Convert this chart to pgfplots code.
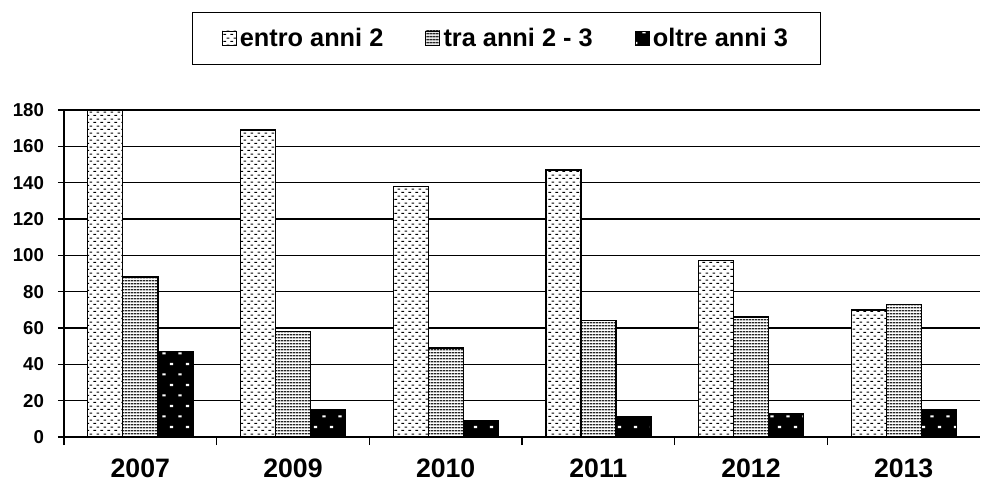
\documentclass[border=0pt]{standalone}
\usepackage{fontspec}
\setmainfont{Liberation Sans}
\usepackage{pgfplots}
\pgfplotsset{compat=1.18}
\usetikzlibrary{patterns,patterns.meta}

\tikzdeclarepattern{
  name=dashdots, type=uncolored,
  bounding box={(0,0) and (5.4pt,5.4pt)},
  tile size={(5.4pt,5.4pt)},
  code={
    \draw[line width=0.9pt] (0.3pt,1.3pt) -- (2.5pt,1.3pt);
    \draw[line width=0.9pt] (3.0pt,4.0pt) -- (5.2pt,4.0pt);
  }
}
\tikzdeclarepattern{
  name=hlines, type=uncolored,
  bounding box={(0,0) and (2pt,2.4pt)},
  tile size={(2pt,2.4pt)},
  code={
    \draw[line width=1.2pt] (-0.1pt,1.2pt) -- (2.1pt,1.2pt);
  }
}
\tikzdeclarepattern{
  name=wdots, type=uncolored,
  bounding box={(0,0) and (12pt,16pt)},
  tile size={(12pt,16pt)},
  code={
    \draw[line width=1.6pt] (1.8pt,2pt) -- (4.4pt,2pt);
    \draw[line width=1.6pt] (7.8pt,10pt) -- (10.4pt,10pt);
  }
}

\begin{document}
\begin{tikzpicture}
\begin{axis}[
  scale only axis,
  width=687pt, height=245.25pt,
  ybar=0pt, bar width=26.25pt,
  xmin=-0.5, xmax=5.5,
  ymin=0, ymax=180,
  ytick={0,20,...,180},
  xtick={0,...,5},
  xticklabels={2007,2009,2010,2011,2012,2013},
  major x tick style={draw=none},
  minor xtick={-0.5,0.5,1.5,2.5,3.5,4.5},
  minor tick length=6pt,
  major tick length=4.5pt,
  tick align=outside,
  axis x line*=bottom, axis y line*=left,
  axis line style={line width=1pt, black, -},
  tick style={line width=1pt, black},
  ymajorgrids, grid style={line width=1.2pt, black},
  y tick label style={font=\fontsize{14}{16}\selectfont\bfseries, xshift=-7pt},
  x tick label style={font=\fontsize{20}{22}\selectfont\bfseries, inner ysep=0pt, text depth=0pt, yshift=-12pt},
  /pgf/number format/assume math mode=true,
  legend columns=3,
  legend style={at={(axis description cs:0.5,1)}, anchor=south, xshift=-11.6pt, yshift=33.75pt,
    draw=black, line width=0.8pt, font=\fontsize{19}{21}\selectfont\bfseries,
    inner xsep=22pt, inner ysep=10pt,
    /tikz/every even column/.append style={column sep=29pt},
    nodes={inner xsep=2.5pt}},
  legend image code/.code={\draw[#1, line width=0.6pt] (0pt,-5pt) rectangle (10.5pt,5.5pt);},
  clip=false,
]
\addplot[draw=black, line width=1pt, fill=white, postaction={pattern=dashdots}]
  coordinates {(0,180) (1,169) (2,138) (3,147) (4,97) (5,70)};
\addplot[draw=black, line width=1pt, fill=white, postaction={pattern=hlines, pattern color=black!85}]
  coordinates {(0,88) (1,58) (2,49) (3,64) (4,66) (5,73)};
\addplot[draw=black, line width=1pt, fill=black, postaction={pattern=wdots, pattern color=white}]
  coordinates {(0,47) (1,15) (2,9) (3,11) (4,13) (5,15)};
\legend{entro anni 2, tra anni 2 - 3, oltre anni 3}
\end{axis}
\pgfresetboundingbox
\path[use as bounding box] ([shift={(-48pt,-33.75pt)}]current axis.south west) rectangle ([shift={(3pt,82.5pt)}]current axis.north east);
\end{tikzpicture}
\end{document}
